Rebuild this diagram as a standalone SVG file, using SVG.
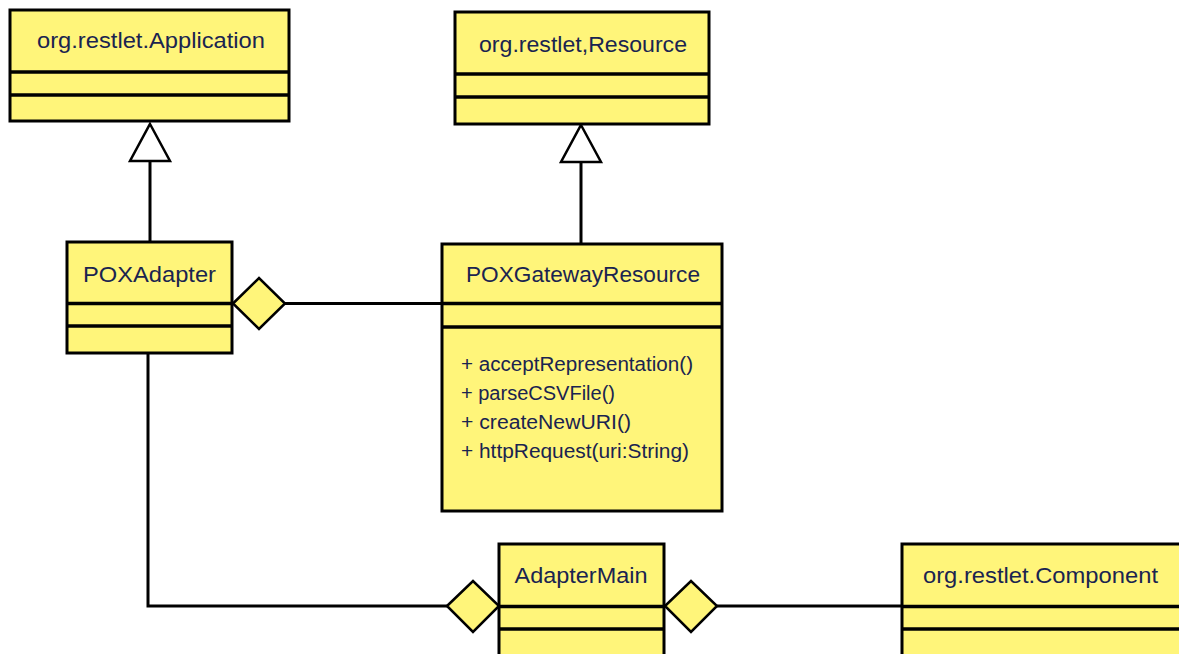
<svg xmlns="http://www.w3.org/2000/svg" width="1179" height="654" viewBox="0 0 1179 654">
<style>
.box{fill:#fff57a;stroke:#000;stroke-width:3}
.div{stroke:#000;stroke-width:3.5}
.t{font-family:"Liberation Sans",Arial,sans-serif;font-size:22.5px;fill:#1a2450;text-anchor:middle}
.m{font-family:"Liberation Sans",Arial,sans-serif;font-size:19.5px;fill:#1a2450}
.ln{fill:none;stroke:#000;stroke-width:3}
.tri{fill:#fff;stroke:#000;stroke-width:2.5}
.dia{fill:#fff57a;stroke:#000;stroke-width:2.5}
</style>
<rect width="1179" height="654" fill="#fff"/>
<g id="connectors">
<line class="ln" x1="150" y1="160" x2="150" y2="242"/>
<polygon class="tri" points="150,124 170,161 130,161"/>
<line class="ln" x1="581" y1="160" x2="581" y2="244"/>
<polygon class="tri" points="581,125 601,162 561,162"/>
<line class="ln" x1="284" y1="303.5" x2="442" y2="303.5"/>
<polygon class="dia" points="233,303.5 259,278 285,303.5 259,329"/>
<polyline class="ln" points="148,353 148,606 448,606"/>
<polygon class="dia" points="447,606 473,581 499,606 473,632"/>
<line class="ln" x1="717" y1="606" x2="902" y2="606"/>
<polygon class="dia" points="665,606 691,581 717,606 691,632"/>
</g>
<g id="application">
<rect class="box" x="10" y="10" width="279" height="111"/>
<line class="div" x1="10" y1="72" x2="289" y2="72"/>
<line class="div" x1="10" y1="95" x2="289" y2="95"/>
<text class="t" x="151" y="48" textLength="228" lengthAdjust="spacingAndGlyphs">org.restlet.Application</text>
</g>
<g id="resource">
<rect class="box" x="455" y="12" width="254" height="112"/>
<line class="div" x1="455" y1="74" x2="709" y2="74"/>
<line class="div" x1="455" y1="97" x2="709" y2="97"/>
<text class="t" x="583" y="52" textLength="208" lengthAdjust="spacingAndGlyphs">org.restlet,Resource</text>
</g>
<g id="poxadapter">
<rect class="box" x="67" y="242" width="165" height="111"/>
<line class="div" x1="67" y1="303.5" x2="232" y2="303.5"/>
<line class="div" x1="67" y1="326" x2="232" y2="326"/>
<text class="t" x="149.5" y="282" textLength="133" lengthAdjust="spacingAndGlyphs">POXAdapter</text>
</g>
<g id="poxgatewayresource">
<rect class="box" x="442" y="244" width="280" height="267"/>
<line class="div" x1="442" y1="303.5" x2="722" y2="303.5"/>
<line class="div" x1="442" y1="327" x2="722" y2="327"/>
<text class="t" x="583" y="282" textLength="234" lengthAdjust="spacingAndGlyphs">POXGatewayResource</text>
<text class="m" x="461" y="371" textLength="232" lengthAdjust="spacingAndGlyphs">+ acceptRepresentation()</text>
<text class="m" x="461" y="400" textLength="154" lengthAdjust="spacingAndGlyphs">+ parseCSVFile()</text>
<text class="m" x="461" y="429" textLength="170" lengthAdjust="spacingAndGlyphs">+ createNewURI()</text>
<text class="m" x="461" y="458" textLength="228" lengthAdjust="spacingAndGlyphs">+ httpRequest(uri:String)</text>
</g>
<g id="adaptermain">
<rect class="box" x="499" y="544" width="165" height="130"/>
<line class="div" x1="499" y1="606.5" x2="664" y2="606.5"/>
<line class="div" x1="499" y1="629" x2="664" y2="629"/>
<text class="t" x="581" y="583" textLength="133" lengthAdjust="spacingAndGlyphs">AdapterMain</text>
</g>
<g id="component">
<rect class="box" x="902" y="544" width="300" height="130"/>
<line class="div" x1="902" y1="606.5" x2="1202" y2="606.5"/>
<line class="div" x1="902" y1="629" x2="1202" y2="629"/>
<text class="t" x="1040.5" y="583" textLength="235" lengthAdjust="spacingAndGlyphs">org.restlet.Component</text>
</g>
</svg>
